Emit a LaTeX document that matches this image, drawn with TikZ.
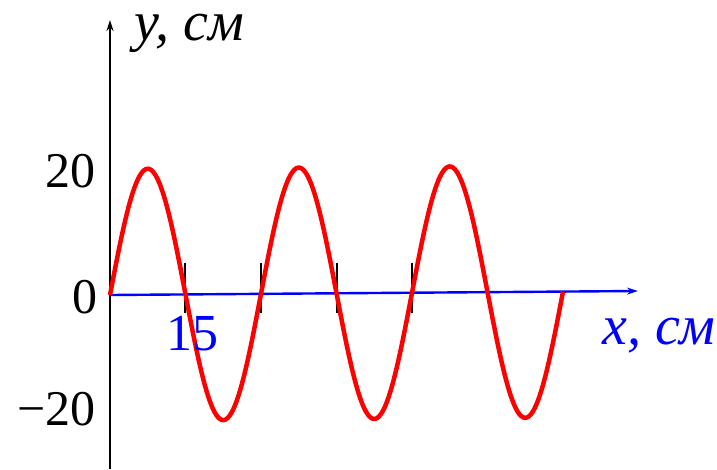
\documentclass[tikz,border=0pt]{standalone}
\usepackage{fontspec}
\setmainfont{Liberation Serif}
\usepackage{tikz}
\usetikzlibrary{arrows.meta}

\begin{document}
\begin{tikzpicture}[x=1pt,y=-1pt,
    axis/.style={line width=1.6pt,-{Stealth[length=11pt,width=7pt]}},
    wave/.style={red,line width=4.5pt},
    tick/.style={line width=1.6pt},
    lbl/.style={inner sep=0pt,font=\fontsize{50}{56}\selectfont},
    unit/.style={inner sep=0pt,text height=0.5em,text depth=0.22em,
      font=\fontsize{56}{62}\selectfont\itshape}]
  \useasboundingbox (0,0) rectangle (717,469);
  \coordinate (O) at (110,295);
  \coordinate (ybot) at (110,469);
  \coordinate (ytop) at (110,20);
  \coordinate (xend) at (638,291);
  \draw[axis] (ybot) -- (ytop);
  \draw[axis,blue,line width=2.4pt] (O) -- (xend);
  \foreach \t/\tx in {1/185,2/261,3/337,4/412} {
    \coordinate (t\t a) at (\tx,263);
    \coordinate (t\t b) at (\tx,313);
    \draw[tick] (t\t a) -- (t\t b);
  }
  \draw[wave] plot[domain=110:563,samples=240,smooth]
    (\x,{295-0.0076*(\x-110)-126*sin(2.3841*(\x-110))});
  \node[unit,anchor=base west] (ylab) at (134,40) {y, см};
  \node[unit,anchor=base west,blue] (xlab) at (602,344) {x, см};
  \node[lbl,anchor=base east] (p20) at (96,187) {20};
  \node[lbl,anchor=base east] (p0) at (98,313) {0};
  \node[lbl,anchor=base east] (m20) at (96,425) {−20};
  \node[lbl,anchor=base west,blue,font=\fontsize{52}{58}\selectfont] (n15) at (166,350) {15};
\end{tikzpicture}
\end{document}
